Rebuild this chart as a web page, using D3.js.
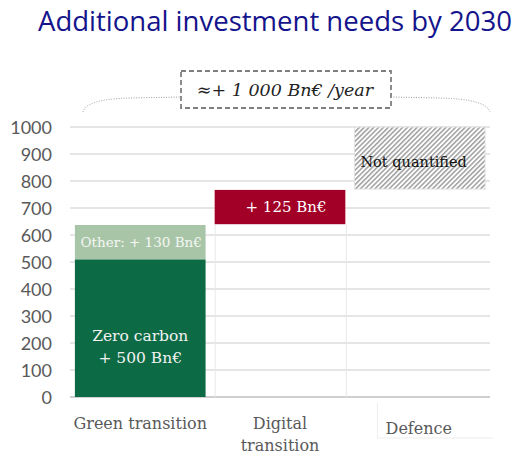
<!DOCTYPE html>
<html><head><meta charset="utf-8">
<script src="https://cdn.jsdelivr.net/npm/d3@7"></script>
<style>body{margin:0;background:#fff}</style>
</head><body>
<script>
const categories = ["Green transition", "Digital transition", "Defence"];
const categoryLines = [["Green transition"], ["Digital", "transition"], ["Defence"]];
// segments: [category, start, end, kind]
const segStarts = [0, 510, 640, 770];
const segEnds   = [510, 637, 767, 1000];
const segCats   = ["Green transition", "Green transition", "Digital transition", "Defence"];
const segKinds  = ["zero", "other", "digital", "defence"];
const segLabels = [["Zero carbon", "+ 500 Bn€"], ["Other: + 130 Bn€"], ["+ 125 Bn€"], ["Not quantified"]];
const yTicks = [0,100,200,300,400,500,600,700,800,900,1000];
const title = "Additional investment needs by 2030";
const annotation = "≈+ 1 000 Bn€ /year";

const W = 520, H = 454;
const svg = d3.select("body").append("svg").attr("width", W).attr("height", H);
const defs = svg.append("defs");
const pat = defs.append("pattern").attr("id","hatch").attr("patternUnits","userSpaceOnUse")
  .attr("width",3.4).attr("height",3.4).attr("patternTransform","rotate(45)");
pat.append("rect").attr("width",3.4).attr("height",3.4).attr("fill","#fff");
pat.append("line").attr("x1",0.8).attr("y1",0).attr("x2",0.8).attr("y2",3.4).attr("stroke","#7a7a7a").attr("stroke-width",1.1);

const x = d3.scaleBand().domain(categories).range([70, 490]).paddingInner(0.065).paddingOuter(0.035);
const y = d3.scaleLinear().domain([0, 1000]).range([397, 127]);

svg.append("text").attr("x", 275).attr("y", 31).attr("text-anchor","middle")
  .attr("font-family","'Open Sans', 'Noto Sans', sans-serif").attr("font-size", 26.5)
  .attr("textLength", 474).attr("lengthAdjust","spacingAndGlyphs")
  .attr("fill","#14148c").text(title);

// gridlines
svg.append("g").selectAll("line").data(yTicks).join("line")
  .attr("x1",70).attr("x2",490).attr("y1",d=>y(d)).attr("y2",d=>y(d))
  .attr("stroke", d=> d===0 ? "#bfbfbf" : "#dcdcdc").attr("stroke-width",1.5);

// y axis labels
const yAxis = svg.append("g").attr("transform","translate(62,0)")
  .call(d3.axisLeft(y).tickValues(yTicks).tickFormat(d3.format("d")).tickSize(0).tickPadding(0));
yAxis.select(".domain").remove();
yAxis.selectAll("text").attr("font-family","Lato, 'Open Sans', sans-serif").attr("font-size",18).attr("fill","#595959").attr("dx","-10").attr("dy","0.35em");

// faint base outlines for the floating digital bar
svg.append("line").attr("x1", x("Digital transition")+0.5).attr("x2", x("Digital transition")+0.5)
  .attr("y1", y(640)).attr("y2", y(0)).attr("stroke","#e8e8e8");
svg.append("line").attr("x1", x("Digital transition")+x.bandwidth()+1).attr("x2", x("Digital transition")+x.bandwidth()+1)
  .attr("y1", y(640)).attr("y2", y(0)).attr("stroke","#e8e8e8");

const colors = {zero:"#0c6b45", other:"#a9c5a7", digital:"#a20027", defence:"url(#hatch)"};
const segs = segStarts.map((s,i)=>({s, e:segEnds[i], c:segCats[i], k:segKinds[i], l:segLabels[i]}));
svg.append("g").selectAll("rect").data(segs).join("rect")
  .attr("x", d=> x(d.c)).attr("width", x.bandwidth())
  .attr("y", d=> y(d.e)).attr("height", d=> y(d.s)-y(d.e))
  .attr("fill", d=> colors[d.k])
  .attr("stroke", d=> d.k==="defence" ? "#e3e3e3" : "none");

const serif = "'DejaVu Serif', 'Liberation Serif', serif";
// bar labels
const lab = svg.append("g").attr("font-family", serif);
segs.forEach(d=>{
  const cx = x(d.c) + x.bandwidth()/2;
  if (d.k==="zero") {
    d.l.forEach((t,i)=> lab.append("text").attr("x",cx).attr("y", y(200)-2 + i*22).attr("text-anchor","middle")
      .attr("font-size",15.5).attr("fill","#f2f2f2").text(t));
  } else if (d.k==="other") {
    lab.append("text").attr("x",cx+1).attr("y", (y(d.s)+y(d.e))/2+5).attr("text-anchor","middle")
      .attr("font-size",13.5).attr("fill","#f4f7f4").text(d.l[0]);
  } else if (d.k==="digital") {
    lab.append("text").attr("x",cx+6).attr("y", (y(d.s)+y(d.e))/2+5).attr("text-anchor","middle")
      .attr("font-size",15).attr("fill","#ffffff").text(d.l[0]);
  } else {
    lab.append("text").attr("x", x(d.c)+6).attr("y", y(870)+5).attr("text-anchor","start")
      .attr("font-size",14.5).attr("fill","#111").text(d.l[0]);
  }
});

// x labels
const xl = svg.append("g").attr("font-family", serif).attr("font-size",16).attr("fill","#595959");
categories.forEach((c,i)=>{
  const lines = categoryLines[i];
  const cx = x(c) + x.bandwidth()/2 + (c==="Defence" ? -1 : 0);
  const y0 = c==="Defence" ? 434 : 429;
  lines.forEach((t,j)=> xl.append("text").attr("x",cx).attr("y", y0 + j*22).attr("text-anchor","middle").text(t));
});
// Defence label box outline
svg.append("path").attr("d", `M${x("Defence")+23},403 V438 H493`).attr("fill","none").attr("stroke","#ededed");

// annotation box
svg.append("rect").attr("x",181).attr("y",71).attr("width",210).attr("height",37)
  .attr("fill","#fff").attr("stroke","#7f7f7f").attr("stroke-width",1.8).attr("stroke-dasharray","5,3");
svg.append("text").attr("x",285).attr("y",96).attr("text-anchor","middle")
  .attr("font-family", serif).attr("font-style","italic").attr("font-size",17.5).attr("fill","#222").text(annotation);
// brace
svg.append("path").attr("d","M83,112 Q86,99 130,98 L181,97").attr("fill","none").attr("stroke","#9a9a9a").attr("stroke-width",1).attr("stroke-dasharray","1,1.5");
svg.append("path").attr("d","M391,97 L440,98 Q486,99 490,112").attr("fill","none").attr("stroke","#9a9a9a").attr("stroke-width",1).attr("stroke-dasharray","1,1.5");
</script>
</body></html>
